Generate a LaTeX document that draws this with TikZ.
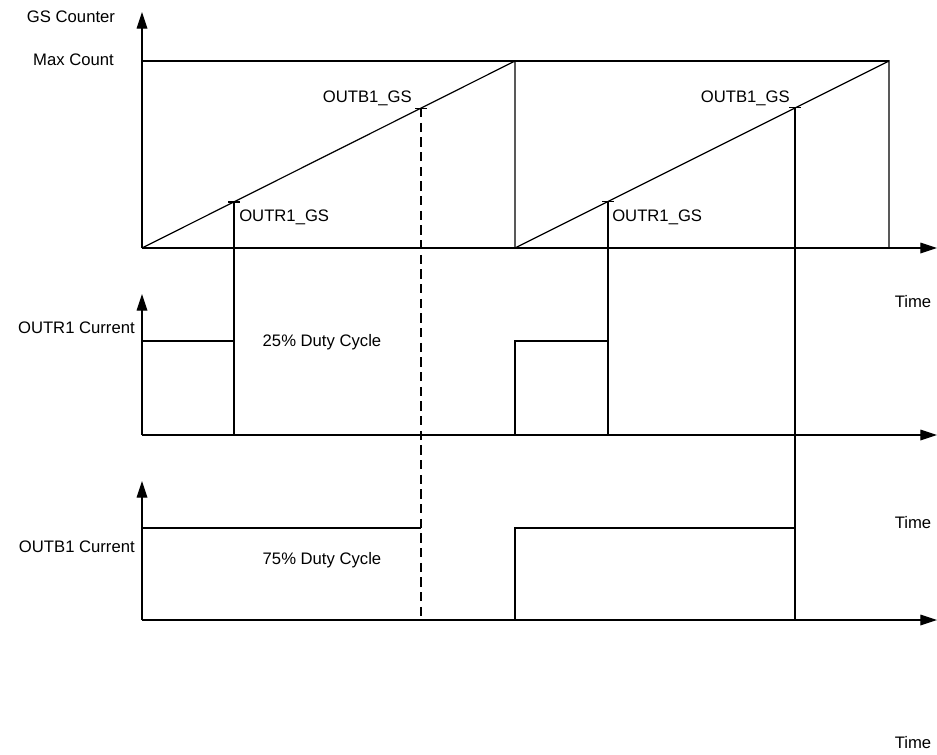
\documentclass[tikz,border=0pt]{standalone}
\usepackage{fontspec}
\setmainfont{Liberation Sans}
\usetikzlibrary{arrows.meta,calc}
\tikzset{
  >={Triangle[length=12.5pt,width=8pt]},
  axis/.style={->,line width=0.9pt},
  wave/.style={line width=0.9pt},
  dashwave/.style={wave,dash pattern=on 7pt off 4pt},
  gsmark/.style={line width=0.9pt},
  lbl/.style={font=\fontsize{12.5}{15}\selectfont,inner sep=0pt},
}

\begin{document}
\begin{tikzpicture}[x=0.75pt,y=-0.75pt]
  \useasboundingbox (0,0) rectangle (937,754);
  \coordinate (o1) at (142,248);
  \coordinate (o2) at (142,435);
  \coordinate (o3) at (142,620);
  % axes
  \draw[axis] (o1) -- (142,12);
  \draw[axis] (o1) -- (937,248);
  \draw[axis] (o2) -- (142,294);
  \draw[axis] (o2) -- (937,435);
  \draw[axis] (o3) -- (142,481);
  \draw[axis] (o3) -- (937,620);
  % GS counter ramps
  \coordinate (m0) at (142,61);
  \coordinate (m1) at (515,61);
  \coordinate (m2) at (889,61);
  \draw[wave] (m0) -- (m1) -- (m2);
  \draw[wave] (o1) -- (m1) -- (515,248);
  \draw[wave] (515,248) -- (m2) -- (889,248);
  % crossings of OUTR1_GS and OUTB1_GS
  \foreach \n/\x/\y in {ra/234/201.9,ba/421/108.1,rb/608/201.4,bb/795/107.6} {
    \coordinate (\n) at (\x,\y);
    \draw[gsmark] ([xshift=-4.5pt]\n) -- ([xshift=4.5pt]\n);
  }
  % OUTR1 current
  \draw[wave] (142,341) -- (234,341);
  \draw[wave] (ra) -- (234,435);
  \draw[wave] (515,435) -- (515,341) -- (608,341);
  \draw[wave] (rb) -- (608,435);
  % OUTB1 current
  \draw[wave] (142,528) -- (421,528);
  \draw[dashwave] (ba) -- (421,620);
  \draw[wave] (515,620) -- (515,528) -- (795,528);
  \draw[wave] (bb) -- (795,620);
  % labels
  \node[lbl,anchor=base] (gsc) at (71,22) {GS Counter};
  \node[lbl,anchor=base] (maxc) at (73.5,65) {Max Count};
  \node[lbl,anchor=base west] (ragl) at (239,221) {OUTR1\_GS};
  \node[lbl,anchor=base west] (rbgl) at (612,221) {OUTR1\_GS};
  \node[lbl,anchor=base east] (bagl) at (412,102) {OUTB1\_GS};
  \node[lbl,anchor=base east] (bbgl) at (790,102) {OUTB1\_GS};
  \node[lbl,anchor=base east] (rcur) at (135,333) {OUTR1 Current};
  \node[lbl,anchor=base east] (bcur) at (135,552) {OUTB1 Current};
  \node[lbl,anchor=base] (rduty) at (322,346) {25\% Duty Cycle};
  \node[lbl,anchor=base] (bduty) at (322,564) {75\% Duty Cycle};
  \node[lbl,anchor=base] (t1) at (913,307) {Time};
  \node[lbl,anchor=base] (t2) at (913,528) {Time};
  \node[lbl,anchor=base] (t3) at (913,748) {Time};
\end{tikzpicture}
\end{document}
